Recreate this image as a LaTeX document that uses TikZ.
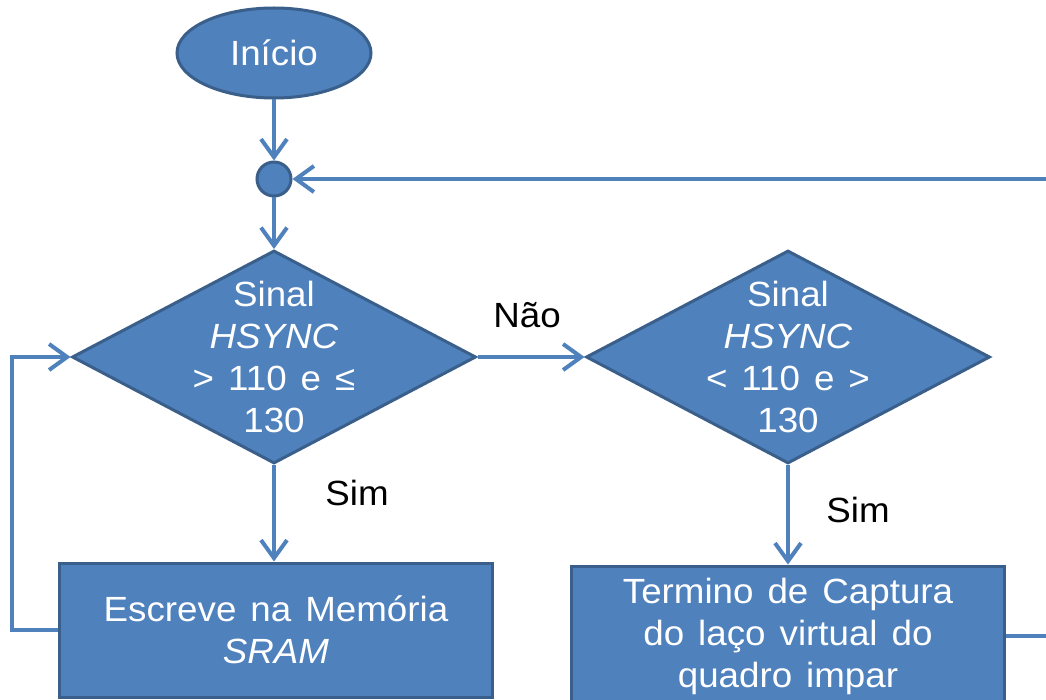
\documentclass[tikz,border=0pt]{standalone}
\usepackage{fontspec}
\setmainfont[FakeStretch=1.05]{Liberation Sans}
\usetikzlibrary{shapes.geometric,arrows.meta}
\definecolor{boxblue}{HTML}{4F81BD}
\definecolor{edgeblue}{HTML}{3A5F8B}
% large sans text with wide word gaps
\newcommand\chartfont{\fontsize{35}{42}\selectfont\spaceskip 14pt plus 2pt minus 1pt\relax}
\begin{document}
\begin{tikzpicture}[x=1pt,y=-1pt,
  every node/.style={font=\chartfont},
  shapebase/.style={draw=edgeblue, fill=boxblue, line width=3pt, text=white, inner sep=0pt},
  terminal/.style={shapebase, ellipse, minimum width=194pt, minimum height=90pt},
  junction/.style={shapebase, circle, minimum size=34pt},
  decision/.style={shapebase, diamond, minimum width=404pt, minimum height=213pt},
  process/.style={shapebase, rectangle, minimum width=433pt, align=center},
  intext/.style={text=white, align=center, inner sep=0pt},
  tag/.style={text=black, inner sep=0pt},
  flow/.style={draw=boxblue, line width=4pt, -{Straight Barb[length=18pt,width=26pt]}}
]
% canvas
\useasboundingbox (0,0) rectangle (1046,700);
\fill[white] (0,0) rectangle (1046,700);
\clip (0,0) rectangle (1046,700);

% shapes
\node[terminal] (start) at (274,53) {Início};
\node[junction] (junc) at (274,179) {};
\node[decision, label={[intext]center:{Sinal\\\textit{HSYNC}\\> 110 e ≤\\130}}] (d1) at (274,357) {};
\node[decision, label={[intext]center:{Sinal\\\textit{HSYNC}\\< 110 e >\\130}}] (d2) at (788,357) {};
\node[process, minimum height=134pt] (b1) at (276,630) {Escreve na Memória\\\textit{SRAM}};
\node[process, minimum height=140pt] (b2) at (788,636) {Termino de Captura\\do laço virtual do\\quadro impar};

% branch labels
\node[tag] (no) at (527,315) {Não};
\node[tag] (yes1) at (357,493) {Sim};
\node[tag] (yes2) at (858,510) {Sim};

% connectors
\draw[flow] (start) -- (junc);
\draw[flow] (junc) -- (d1);
\draw[flow] (d1) -- (d2);
\draw[flow] (d1.south) -- (d1.south |- b1.north);
\draw[flow] (d2) -- (b2);
\draw[flow] (b1.west) -- ++(-46,0) |- (d1.west);
\draw[flow] (b2.east) -- ++(60,0) |- (junc.east);
\end{tikzpicture}
\end{document}
